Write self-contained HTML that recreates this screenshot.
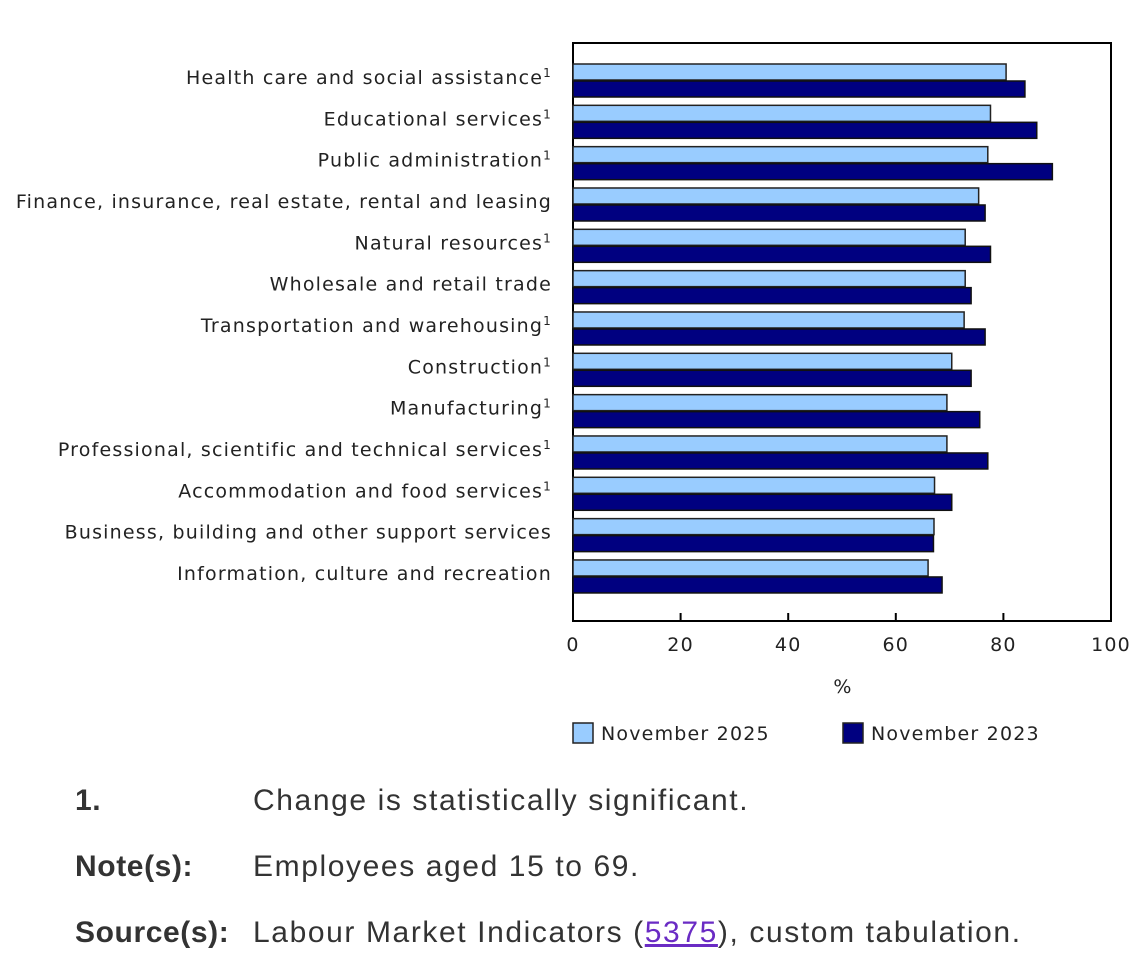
<!DOCTYPE html>
<html><head><meta charset="utf-8"><style>
body{margin:0;width:1140px;height:976px;background:#fff;overflow:hidden;font-family:"DejaVu Sans",sans-serif}
.fn{position:absolute;font-family:"Liberation Sans",sans-serif;font-size:30px;letter-spacing:1.6px;color:#333}
.b{font-weight:bold;letter-spacing:0.6px}
a{color:#6a2bc4}
svg text{letter-spacing:1.2px}
</style></head><body>
<svg id="chart" width="1140" height="760" style="position:absolute;left:0;top:0" font-family="DejaVu Sans, sans-serif"></svg>
<div class="fn b" style="left:75px;top:784px">1.</div>
<div class="fn" style="left:253px;top:784px">Change is statistically significant.</div>
<div class="fn b" style="left:75px;top:850px">Note(s):</div>
<div class="fn" style="left:253px;top:850px">Employees aged 15 to 69.</div>
<div class="fn b" style="left:75px;top:916px">Source(s):</div>
<div class="fn" style="left:253px;top:916px">Labour Market Indicators (<a href="#">5375</a>), custom tabulation.</div>
<script>
const categories=["Health care and social assistance","Educational services","Public administration","Finance, insurance, real estate, rental and leasing","Natural resources","Wholesale and retail trade","Transportation and warehousing","Construction","Manufacturing","Professional, scientific and technical services","Accommodation and food services","Business, building and other support services","Information, culture and recreation"];
const significant=[1,1,1,0,1,0,1,1,1,1,1,0,0];
const nov2025=[80.5,77.6,77.1,75.4,72.9,72.9,72.7,70.4,69.5,69.5,67.2,67.1,66.0];
const nov2023=[84.0,86.2,89.1,76.6,77.6,74.0,76.6,74.0,75.6,77.1,70.4,67.0,68.6];
const ticks=[0,20,40,60,80,100];
const svg=document.getElementById('chart');const NS='http://www.w3.org/2000/svg';
const L=573,R=1111,T=43,B=621,Y0=59,band=41.33;
const x=v=>L+(v/100)*(R-L);
function mk(t,a,p){const e=document.createElementNS(NS,t);for(const k in a)e.setAttribute(k,a[k]);(p||svg).appendChild(e);return e;}
const frame=mk('rect',{x:L,y:T,width:R-L,height:B-T,fill:'none',stroke:'#000','stroke-width':2});


categories.forEach((c,i)=>{
  const top=Y0+i*band;
  const t=mk('text',{x:552,y:top+25,'text-anchor':'end','font-size':19,fill:'#222'});
  t.textContent=c;
  if(significant[i]){const s=mk('tspan',{'font-size':12,dy:-7},t);s.textContent='1';}
  
  
  const b1=mk('rect',{x:L,y:top+5,width:x(nov2025[i])-L,height:16,fill:'#99ccff',stroke:'#222','stroke-width':1.5});
  
  
  const b2=mk('rect',{x:L,y:top+22,width:x(nov2023[i])-L,height:16,fill:'#000080',stroke:'#111','stroke-width':1.5});
  
  
});
ticks.forEach(v=>{
  const tk=mk('line',{x1:x(v),x2:x(v),y1:B-8,y2:B,stroke:'#000','stroke-width':2});
  
  
  const tl=mk('text',{x:x(v),y:651,'text-anchor':'middle','font-size':19,fill:'#222'});
  tl.textContent=v;
  
  
});
const at=mk('text',{x:843,y:693,'text-anchor':'middle','font-size':19,fill:'#222'});at.textContent='%';


[[573,'#99ccff','November 2025'],[843,'#000080','November 2023']].forEach(([lx,col,txt])=>{
  const g=mk('g',{});
  
  
  mk('rect',{x:lx,y:723,width:20,height:20,fill:col,stroke:'#222','stroke-width':1.5},g);
  const tt=mk('text',{x:lx+28,y:740,'font-size':19,fill:'#222'},g);tt.textContent=txt;
});
</script>
</body></html>
